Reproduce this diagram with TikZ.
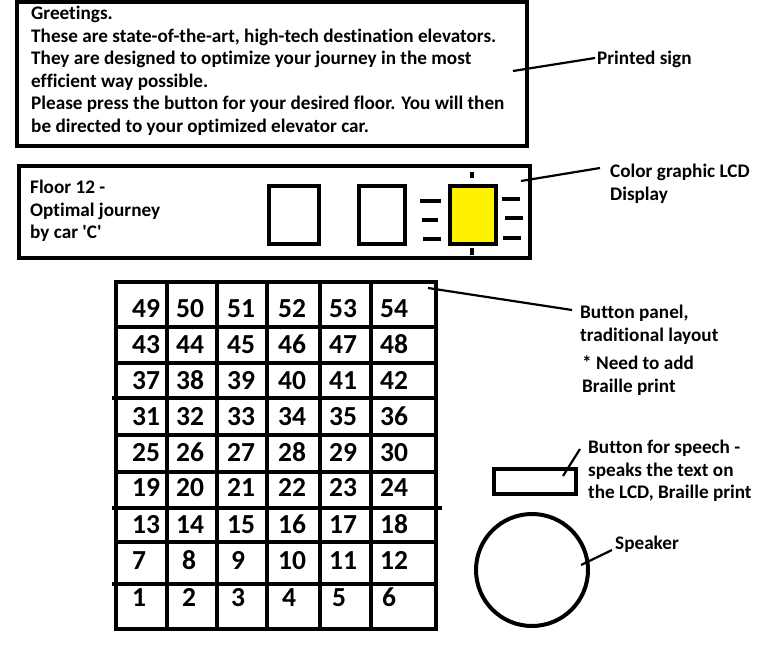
\documentclass[tikz,border=0pt]{standalone}
\usepackage{fontspec}
\setmainfont{Carlito}[Ligatures={NoCommon,NoContextual}, RawFeature={-liga,-clig,-dlig}]
\definecolor{lcdyellow}{RGB}{255,242,0}
\tikzset{
  lbl/.style={anchor=north west, inner sep=0pt, align=left, font=\fontsize{19.2}{22.5}\selectfont\bfseries},
  num/.style={anchor=west, inner sep=0pt, text height=17pt, text depth=0pt, font=\fontsize{27.5}{27.5}\selectfont\bfseries},
  frame/.style={line width=4.5pt},
  gridline/.style={line width=3.3pt},
  leader/.style={line width=2.2pt},
}
\begin{document}
\begin{tikzpicture}[x=1pt,y=-1pt]
\useasboundingbox (0,0) rectangle (761,647);

% printed sign
\draw[frame] (17,2) rectangle (527,146);
\node[lbl] (signtxt) at (31,6) {Greetings.\\These are state-of-the-art, high-tech destination elevators.\\They are designed to optimize your journey in the most\\efficient way possible.\\Please press the button for your desired floor. You will then\\be directed to your optimized elevator car.};
\node[lbl] (signlbl) at (597,51) {Printed sign};
\coordinate (signpt) at (513,71);
\coordinate (signend) at (595,58);
\draw[leader] (signpt) -- (signend);

% LCD display
\draw[frame] (19,166) rectangle (530,258);
\node[lbl] (floortxt) at (30,180) {Floor 12 -\\Optimal journey\\by car \textquotesingle C\textquotesingle};
\draw[gridline] (269,186) rectangle (319,244);
\draw[gridline] (359,186) rectangle (405,244);
\draw[gridline, fill=lcdyellow] (450,186) rectangle (496,244);
\draw[gridline] (472,172) -- (472,178) (472,248) -- (472,255);
\draw[gridline] (420,201) -- (441,201) (422,220) -- (438,220) (423,239) -- (441,239);
\draw[gridline] (502,199) -- (520,199) (505,218) -- (523,218) (503,238) -- (521,238);
\node[lbl] (lcdlbl) at (610,164) {Color graphic LCD\\Display};
\coordinate (lcdpt) at (521,181);
\coordinate (lcdend) at (600,168);
\draw[leader] (lcdpt) -- (lcdend);

% button panel
\draw[frame] (116,282) rectangle (436,629);
\foreach \y in {327,363,398,435,472,508,542,584}
  \draw[gridline] (116,\y) -- (436,\y);
\foreach \x in {167,217,267,320,371}
  \draw[gridline] (\x,282) -- (\x,629);
\draw[gridline] (112,398) -- (273,398) (112,508) -- (442,508) (112,584) -- (116,584);
\foreach \y [count=\r from 0] in {309,345,381,417,453,488,525,561,598}
  \foreach \xa/\xb [count=\c from 0] in {132/132,176/182,227/231,278/282,329/332,380/382} {
    \pgfmathtruncatemacro\n{49-6*\r+\c}
    \ifnum\n<10
      \node[num] (b\n) at (\xb,\y) {\n};
    \else
      \node[num] (b\n) at (\xa,\y) {\n};
    \fi
  }
\node[lbl] (panellbl) at (580,305) {Button panel,\\traditional layout};
\node[lbl] (notelbl) at (582,356) {* Need to add\\Braille print};
\coordinate (panelpt) at (428,288);
\coordinate (panelend) at (572,310);
\draw[leader] (panelpt) -- (panelend);

% speech button
\draw[line width=4pt] (494,469) rectangle (576,494);
\node[lbl] (speechlbl) at (588,440) {Button for speech -\\speaks the text on\\the LCD, Braille print};
\coordinate (speechpt) at (563,476);
\coordinate (speechend) at (580,449);
\draw[leader] (speechpt) -- (speechend);

% speaker
\draw[line width=4pt] (532,570) circle (56);
\node[lbl] (speakerlbl) at (615,536) {Speaker};
\coordinate (speakerpt) at (581,565);
\coordinate (speakerend) at (612,550);
\draw[leader] (speakerpt) -- (speakerend);
\end{tikzpicture}
\end{document}
